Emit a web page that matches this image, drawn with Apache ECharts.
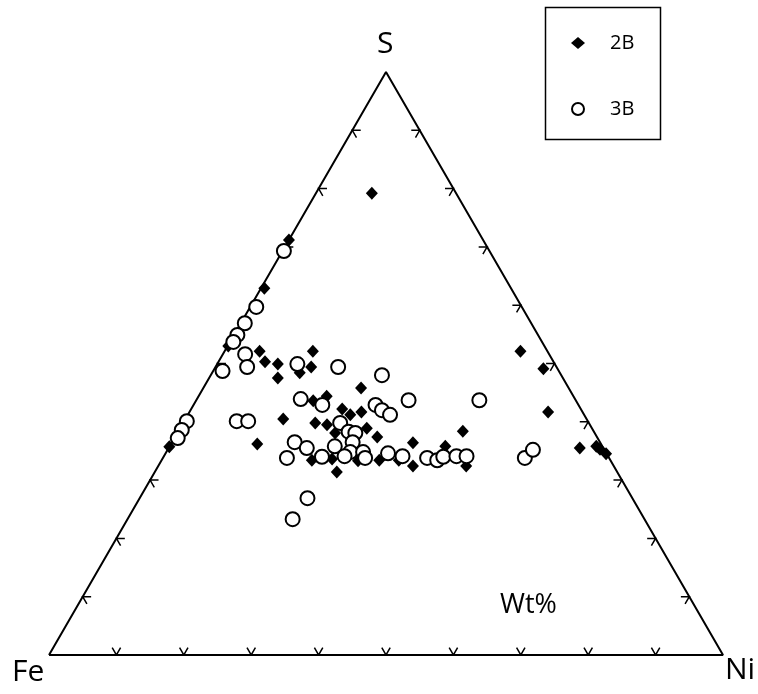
<!DOCTYPE html>
<html>
<head>
<meta charset="utf-8">
<script src="https://cdn.jsdelivr.net/npm/echarts@6/dist/echarts.min.js"></script>
<style>
html,body{margin:0;padding:0;background:#fff;}
#chart{width:758px;height:694px;}
</style>
</head>
<body>
<div id="chart"></div>
<script>
// Ternary compositions (Wt%): Fe, Ni, S
const fe2B = [12.5,28.8,36.6,46.9,42.7,42.8,41.1,34.8,36.4,42.3,38.6,30.8,39.0,36.6,35.4,32.8,45.0,40.6,39.0,34.7,38.5,33.4,32.6,27.8,23.3,19.4,44.3,41.2,37.5,34.3,31.4,29.8,21.9,41.6,51.0,64.3,4.0,2.1,5.1,3.5,0.9,0.6,0.1];
const ni2B = [8.3,0.0,0.5,0.1,5.2,6.9,9.0,13.1,14.2,10.2,13.0,23.4,17.4,19.0,22.4,25.5,14.5,19.6,21.5,24.1,23.4,27.7,30.0,35.8,40.9,42.2,22.3,25.2,29.2,32.3,35.2,37.8,45.7,27.0,12.8,0.0,43.9,48.8,53.2,61.0,63.3,64.1,65.4];
const s2B  = [79.2,71.2,62.9,53.0,52.1,50.3,49.9,52.1,49.4,47.5,48.4,45.8,43.6,44.4,42.2,41.7,40.5,39.8,39.5,41.2,38.1,38.9,37.4,36.4,35.8,38.4,33.4,33.6,33.3,33.4,33.4,32.4,32.4,31.4,36.2,35.7,52.1,49.1,41.7,35.5,35.8,35.3,34.5];

const fe3B = [30.5,39.4,42.5,44.6,45.8,45.1,45.9,49.9,38.2,32.4,26.6,40.7,38.0,30.1,29.6,28.8,24.8,14.3,36.9,36.4,35.5,36.7,45.3,44.0,39.7,37.9,36.0,32.4,47.8,42.5,39.1,36.2,30.5,27.0,25.7,24.5,22.5,21.0,12.5,10.6,48.2,52.2,59.5,61.0,62.3,52.1,50.4];
const ni3B = [0.2,0.9,0.6,0.5,0.5,3.3,4.7,1.4,11.9,18.2,25.4,15.4,19.1,27.0,28.4,30.0,31.5,42.0,23.3,25.3,26.4,26.8,18.2,20.5,24.5,27.3,29.2,33.0,18.4,23.5,26.8,30.0,35.4,39.2,40.9,41.5,43.4,44.9,53.7,54.2,24.9,24.5,0.4,0.4,0.5,7.8,9.5];
const s3B  = [69.3,59.7,56.9,54.9,53.7,51.6,49.4,48.7,49.9,49.4,48.0,43.9,42.9,42.9,42.0,41.2,43.7,43.7,39.8,38.3,38.1,36.5,36.5,35.5,35.8,34.8,34.8,34.6,33.8,34.0,34.1,33.8,34.1,33.8,33.4,34.0,34.1,34.1,33.8,35.2,26.9,23.3,40.1,38.6,37.2,40.1,40.1];

const tickValues = [10,20,30,40,50,60,70,80,90];
const seriesNames = ['2B','3B'];
const vertexLabels = ['S','Fe','Ni'];
const unitLabel = 'Wt%';

const H = Math.sqrt(3) / 2 * 100;
function toXY(fe, ni, s) {
  const t = fe + ni + s;
  return [(ni + s / 2) / t * 100, (s / t) * H];
}
function build(fe, ni, s) {
  return fe.map((f, i) => toXY(f, ni[i], s[i]));
}

// tick marks (two short arms along the internal grid directions)
const L = 1.25;
const c60 = 0.5, s60 = Math.sqrt(3) / 2;
const tickLines = [];
tickValues.forEach(t => {
  let p = toXY(100 - t, t, 0);
  tickLines.push({coords: [[p[0] - L * c60, p[1] + L * s60], p, [p[0] + L * c60, p[1] + L * s60]]});
  p = toXY(100 - t, 0, t);
  tickLines.push({coords: [[p[0] + L, p[1]], p, [p[0] + L * c60, p[1] - L * s60]]});
  p = toXY(0, 100 - t, t);
  tickLines.push({coords: [[p[0] - L, p[1]], p, [p[0] - L * c60, p[1] - L * s60]]});
});

const outline = [toXY(100,0,0), toXY(0,100,0), toXY(0,0,100), toXY(100,0,0)];

const chart = echarts.init(document.getElementById('chart'), null, {renderer: 'canvas'});
const font = "'Open Sans', 'DejaVu Sans', sans-serif";
chart.setOption({
  animation: false,
  backgroundColor: '#fff',
  grid: {left: 49, top: 72, width: 674, height: 583},
  xAxis: {type: 'value', min: 0, max: 100, show: false},
  yAxis: {type: 'value', min: 0, max: H, show: false},
  legend: {
    orient: 'vertical',
    left: 566, top: 25,
    itemGap: 40,
    itemWidth: 14, itemHeight: 12,
    textStyle: {fontFamily: font, fontSize: 20, color: '#000', padding: [0, 0, 0, 20], lineHeight: 26},
    data: [
      {name: seriesNames[0], icon: 'diamond', itemStyle: {color: '#000', borderWidth: 0}},
      {name: seriesNames[1], icon: 'circle', itemStyle: {color: '#fff', borderColor: '#000', borderWidth: 2}}
    ]
  },
  graphic: [
    {type: 'rect', left: 543, top: 5, shape: {width: 115, height: 132}, style: {fill: 'none', stroke: '#000', lineWidth: 1.5}},
    {type: 'text', left: 377, top: 29, style: {text: vertexLabels[0], font: "30px 'Open Sans', sans-serif", fill: '#000'}},
    {type: 'text', left: 12, top: 657, style: {text: vertexLabels[1], font: "30px 'Open Sans', sans-serif", fill: '#000'}},
    {type: 'text', left: 725, top: 655, style: {text: vertexLabels[2], font: "30px 'Open Sans', sans-serif", fill: '#000'}},
    {type: 'text', left: 500, top: 592, style: {text: unitLabel, font: "27px 'Open Sans', sans-serif", fill: '#000'}}
  ],
  series: [
    {
      type: 'line', data: outline, showSymbol: false, silent: true,
      lineStyle: {color: '#000', width: 2}, z: 1
    },
    {
      type: 'lines', coordinateSystem: 'cartesian2d', polyline: true, silent: true,
      data: tickLines, lineStyle: {color: '#000', width: 1.5, opacity: 1}, z: 1
    },
    {
      name: seriesNames[0], type: 'scatter', symbol: 'diamond', symbolSize: [12, 13],
      data: build(fe2B, ni2B, s2B),
      itemStyle: {color: '#000', opacity: 1}, z: 3
    },
    {
      name: seriesNames[1], type: 'scatter', symbol: 'circle', symbolSize: 14,
      data: build(fe3B, ni3B, s3B),
      itemStyle: {color: '#fff', borderColor: '#000', borderWidth: 2, opacity: 1}, z: 4
    }
  ]
});
</script>
</body>
</html>
